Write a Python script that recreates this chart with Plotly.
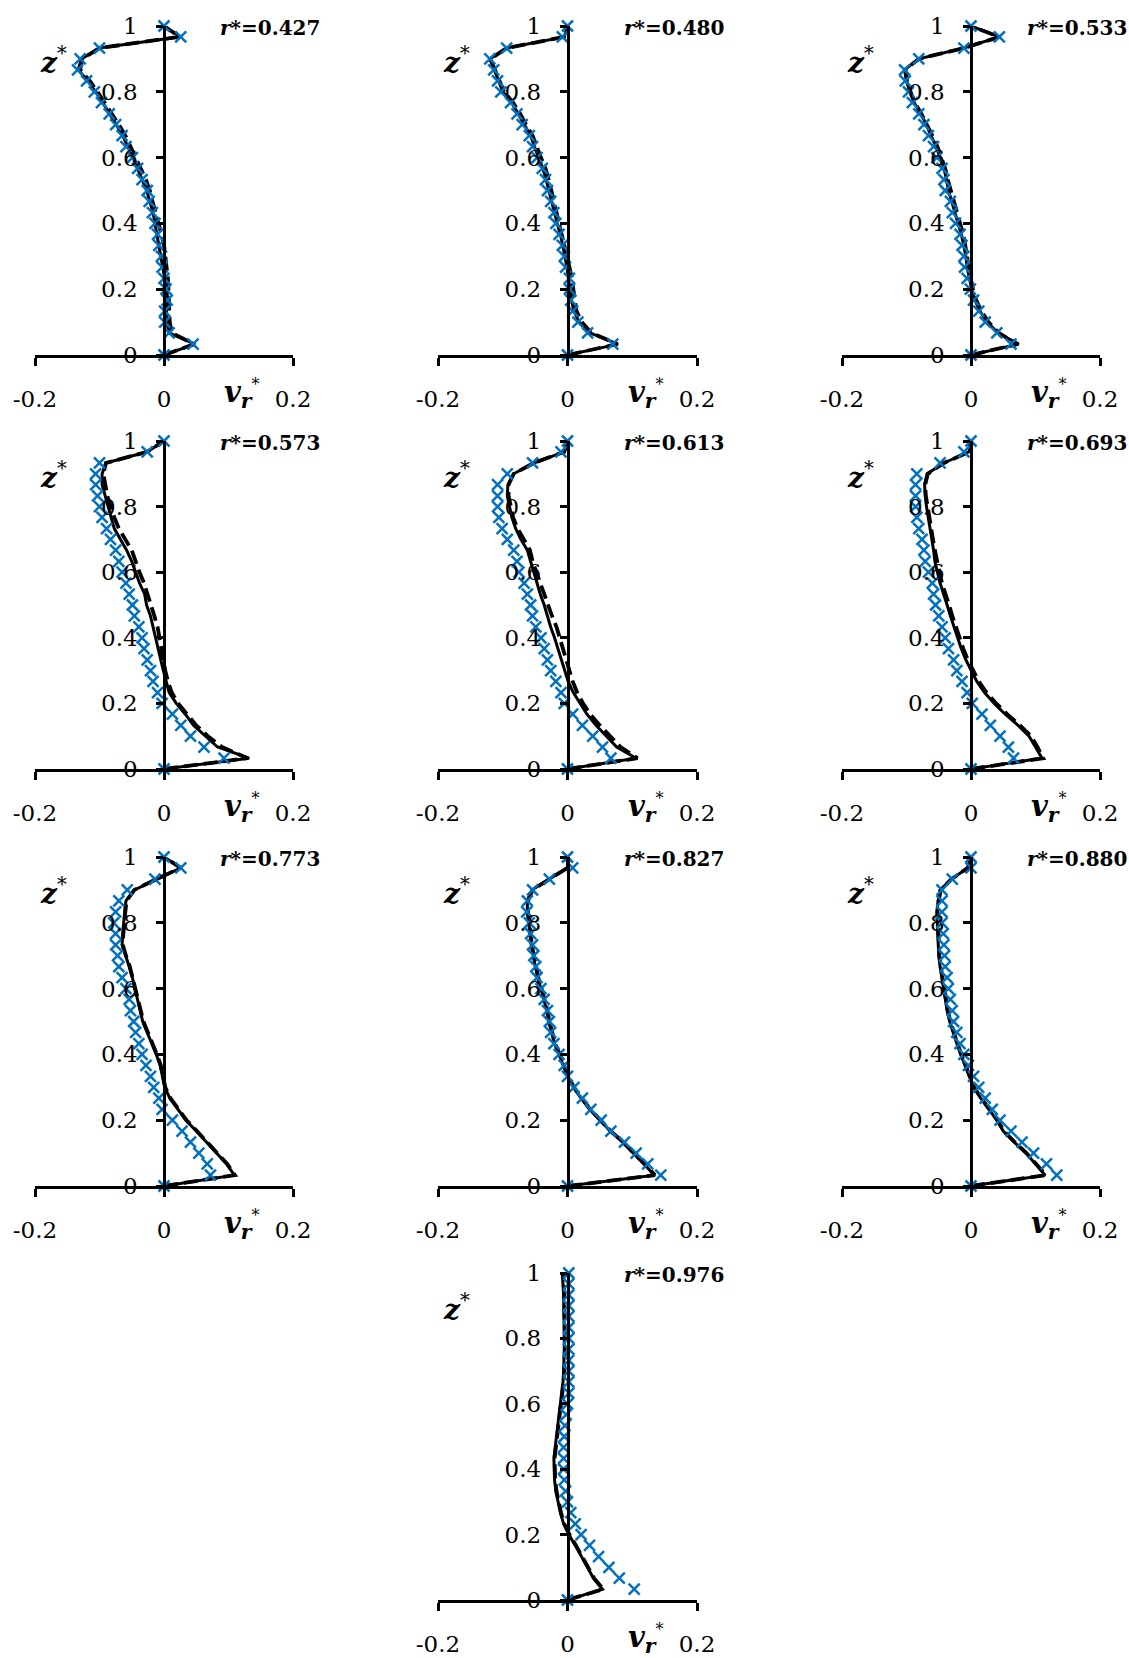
import plotly.graph_objects as go

# z* grid (shared by all profiles)
Z = [0, 0.033, 0.067, 0.1, 0.133, 0.167, 0.2, 0.233, 0.267, 0.3, 0.333, 0.367, 0.4,
     0.433, 0.467, 0.5, 0.533, 0.567, 0.6, 0.633, 0.667, 0.7, 0.733, 0.767, 0.8,
     0.833, 0.867, 0.9, 0.933, 0.967, 1]

R_LABELS = ["0.427", "0.480", "0.533", "0.573", "0.613", "0.693", "0.773", "0.827", "0.880", "0.976"]

# solid black line
S1 = [0, 0.048, 0.008, 0.004, 0.004, 0.006, 0.004, 0.001, -0.002, -0.004, -0.007, -0.010, -0.013, -0.017, -0.022, -0.027, -0.034, -0.041, -0.048, -0.056, -0.064, -0.074, -0.084, -0.095, -0.106, -0.118, -0.133, -0.128, -0.100, 0.026, 0]
S2 = [0, 0.078, 0.035, 0.018, 0.010, 0.006, 0.004, 0.002, -0.001, -0.004, -0.007, -0.011, -0.016, -0.020, -0.024, -0.029, -0.033, -0.038, -0.045, -0.051, -0.057, -0.067, -0.076, -0.086, -0.100, -0.106, -0.113, -0.120, -0.094, -0.005, 0]
S3 = [0, 0.074, 0.042, 0.025, 0.014, 0.006, 0.001, -0.003, -0.006, -0.008, -0.011, -0.015, -0.020, -0.025, -0.029, -0.035, -0.038, -0.042, -0.048, -0.054, -0.062, -0.069, -0.078, -0.088, -0.095, -0.100, -0.103, -0.081, -0.011, 0.044, 0]
S4 = [0, 0.132, 0.083, 0.064, 0.046, 0.033, 0.019, 0.008, 0.003, -0.001, -0.005, -0.009, -0.012, -0.016, -0.021, -0.027, -0.030, -0.038, -0.044, -0.050, -0.058, -0.068, -0.077, -0.082, -0.087, -0.092, -0.096, -0.096, -0.090, -0.026, 0]
S5 = [0, 0.106, 0.076, 0.060, 0.044, 0.030, 0.019, 0.009, 0.001, -0.004, -0.009, -0.014, -0.020, -0.026, -0.031, -0.036, -0.042, -0.047, -0.053, -0.057, -0.062, -0.072, -0.080, -0.086, -0.090, -0.093, -0.092, -0.083, -0.052, -0.005, 0]
S6 = [0, 0.110, 0.100, 0.090, 0.073, 0.053, 0.036, 0.021, 0.009, 0.000, -0.008, -0.015, -0.021, -0.027, -0.032, -0.037, -0.043, -0.048, -0.052, -0.056, -0.058, -0.061, -0.063, -0.066, -0.069, -0.071, -0.072, -0.068, -0.042, -0.003, 0]
S7 = [0, 0.109, 0.097, 0.082, 0.066, 0.050, 0.034, 0.021, 0.009, 0.001, -0.002, -0.006, -0.012, -0.019, -0.026, -0.033, -0.037, -0.041, -0.045, -0.049, -0.054, -0.060, -0.065, -0.064, -0.063, -0.061, -0.059, -0.046, -0.010, 0.026, 0]
S8 = [0, 0.134, 0.118, 0.102, 0.085, 0.066, 0.050, 0.034, 0.021, 0.009, 0.000, -0.006, -0.013, -0.020, -0.025, -0.029, -0.032, -0.036, -0.041, -0.046, -0.050, -0.053, -0.056, -0.058, -0.060, -0.062, -0.062, -0.055, -0.028, 0.000, 0]
S9 = [0, 0.115, 0.100, 0.085, 0.067, 0.050, 0.040, 0.027, 0.015, 0.004, -0.003, -0.010, -0.016, -0.022, -0.028, -0.033, -0.037, -0.040, -0.043, -0.046, -0.048, -0.050, -0.051, -0.052, -0.053, -0.053, -0.051, -0.048, -0.030, -0.005, 0]
S10 = [0, 0.054, 0.040, 0.031, 0.021, 0.012, 0.002, -0.006, -0.011, -0.015, -0.018, -0.020, -0.021, -0.021, -0.019, -0.017, -0.015, -0.013, -0.010, -0.008, -0.007, -0.006, -0.005, -0.005, -0.005, -0.005, -0.005, -0.006, -0.006, -0.007, -0.008]

# dashed black line
D1 = [0, 0.047, 0.012, 0.009, 0.008, 0.008, 0.007, 0.006, 0.004, 0.002, 0.000, -0.004, -0.008, -0.013, -0.018, -0.022, -0.028, -0.036, -0.043, -0.051, -0.060, -0.070, -0.080, -0.092, -0.103, -0.115, -0.130, -0.127, -0.100, 0.024, 0]
D2 = [0, 0.077, 0.037, 0.022, 0.014, 0.011, 0.009, 0.007, 0.003, 0.000, -0.004, -0.008, -0.012, -0.016, -0.020, -0.025, -0.029, -0.034, -0.041, -0.047, -0.054, -0.064, -0.073, -0.084, -0.098, -0.105, -0.112, -0.119, -0.094, -0.005, 0]
D3 = [0, 0.072, 0.043, 0.027, 0.016, 0.008, 0.003, -0.001, -0.004, -0.006, -0.009, -0.012, -0.017, -0.022, -0.026, -0.032, -0.036, -0.040, -0.046, -0.052, -0.060, -0.068, -0.077, -0.087, -0.094, -0.099, -0.102, -0.081, -0.011, 0.044, 0]
D4 = [0, 0.129, 0.090, 0.068, 0.050, 0.036, 0.022, 0.012, 0.006, 0.002, -0.001, -0.004, -0.006, -0.010, -0.015, -0.020, -0.025, -0.031, -0.038, -0.044, -0.050, -0.060, -0.070, -0.077, -0.083, -0.088, -0.091, -0.094, -0.090, -0.026, 0]
D5 = [0, 0.108, 0.082, 0.065, 0.050, 0.035, 0.024, 0.015, 0.008, 0.003, -0.002, -0.007, -0.011, -0.017, -0.024, -0.030, -0.036, -0.042, -0.048, -0.054, -0.058, -0.068, -0.077, -0.084, -0.088, -0.091, -0.091, -0.083, -0.052, -0.005, 0]
D6 = [0, 0.112, 0.103, 0.093, 0.076, 0.056, 0.039, 0.024, 0.012, 0.003, -0.005, -0.012, -0.018, -0.024, -0.029, -0.034, -0.040, -0.045, -0.049, -0.053, -0.056, -0.059, -0.062, -0.065, -0.068, -0.070, -0.071, -0.067, -0.042, -0.003, 0]
D7 = [0, 0.110, 0.098, 0.083, 0.067, 0.051, 0.035, 0.022, 0.010, 0.002, -0.001, -0.005, -0.011, -0.018, -0.025, -0.032, -0.036, -0.040, -0.044, -0.048, -0.053, -0.059, -0.064, -0.063, -0.062, -0.060, -0.058, -0.046, -0.012, 0.026, 0]
D8 = [0, 0.135, 0.119, 0.103, 0.086, 0.067, 0.051, 0.035, 0.022, 0.010, 0.001, -0.005, -0.012, -0.019, -0.024, -0.028, -0.031, -0.035, -0.040, -0.045, -0.049, -0.052, -0.055, -0.057, -0.059, -0.061, -0.061, -0.054, -0.028, 0.000, 0]
D9 = [0, 0.116, 0.101, 0.086, 0.068, 0.051, 0.041, 0.028, 0.016, 0.005, -0.002, -0.009, -0.015, -0.021, -0.027, -0.032, -0.036, -0.039, -0.042, -0.045, -0.047, -0.049, -0.050, -0.051, -0.052, -0.052, -0.050, -0.047, -0.030, -0.005, 0]
D10 = [0, 0.055, 0.041, 0.032, 0.022, 0.013, 0.003, -0.005, -0.010, -0.014, -0.017, -0.019, -0.020, -0.020, -0.018, -0.016, -0.014, -0.012, -0.009, -0.007, -0.006, -0.005, -0.004, -0.004, -0.004, -0.004, -0.004, -0.005, -0.005, -0.006, -0.007]

# blue x markers
B1 = [0, 0.045, 0.008, 0.001, 0.001, 0.005, 0.003, 0.000, -0.003, -0.004, -0.008, -0.010, -0.014, -0.018, -0.023, -0.026, -0.034, -0.041, -0.049, -0.059, -0.065, -0.075, -0.085, -0.097, -0.108, -0.120, -0.134, -0.130, -0.100, 0.026, 0]
B2 = [0, 0.070, 0.031, 0.016, 0.008, 0.005, 0.003, 0.003, -0.003, -0.005, -0.008, -0.013, -0.018, -0.021, -0.026, -0.031, -0.034, -0.039, -0.047, -0.054, -0.059, -0.070, -0.078, -0.088, -0.103, -0.108, -0.114, -0.120, -0.094, -0.008, 0]
B3 = [0, 0.062, 0.040, 0.022, 0.012, 0.004, -0.001, -0.006, -0.010, -0.011, -0.014, -0.017, -0.024, -0.029, -0.032, -0.040, -0.042, -0.045, -0.053, -0.058, -0.066, -0.073, -0.081, -0.091, -0.097, -0.102, -0.103, -0.081, -0.011, 0.044, 0]
B4 = [0, 0.093, 0.062, 0.041, 0.026, 0.013, -0.003, -0.010, -0.017, -0.021, -0.026, -0.031, -0.034, -0.039, -0.046, -0.049, -0.054, -0.059, -0.065, -0.070, -0.075, -0.083, -0.089, -0.096, -0.100, -0.103, -0.106, -0.106, -0.100, -0.026, 0]
B5 = [0, 0.067, 0.054, 0.039, 0.023, 0.008, -0.005, -0.010, -0.018, -0.026, -0.031, -0.036, -0.041, -0.049, -0.054, -0.057, -0.062, -0.067, -0.075, -0.078, -0.083, -0.093, -0.101, -0.106, -0.108, -0.108, -0.108, -0.093, -0.054, -0.010, 0]
B6 = [0, 0.066, 0.058, 0.045, 0.030, 0.017, 0.002, -0.006, -0.014, -0.022, -0.027, -0.035, -0.040, -0.045, -0.050, -0.055, -0.058, -0.060, -0.066, -0.071, -0.073, -0.076, -0.081, -0.084, -0.086, -0.086, -0.086, -0.084, -0.048, -0.011, 0]
B7 = [0, 0.072, 0.067, 0.054, 0.041, 0.028, 0.013, -0.003, -0.008, -0.016, -0.021, -0.028, -0.034, -0.039, -0.044, -0.047, -0.052, -0.054, -0.059, -0.065, -0.070, -0.072, -0.075, -0.075, -0.078, -0.075, -0.070, -0.057, -0.014, 0.026, 0]
B8 = [0, 0.144, 0.124, 0.106, 0.088, 0.067, 0.052, 0.036, 0.023, 0.010, 0.000, -0.005, -0.013, -0.021, -0.026, -0.028, -0.031, -0.036, -0.041, -0.047, -0.049, -0.052, -0.054, -0.057, -0.059, -0.063, -0.062, -0.054, -0.028, 0.008, 0]
B9 = [0, 0.133, 0.117, 0.097, 0.079, 0.062, 0.045, 0.033, 0.022, 0.012, 0.004, -0.004, -0.011, -0.017, -0.022, -0.027, -0.029, -0.032, -0.035, -0.037, -0.040, -0.041, -0.042, -0.043, -0.045, -0.045, -0.045, -0.045, -0.029, 0.000, 0]
B10 = [0, 0.103, 0.080, 0.064, 0.048, 0.034, 0.021, 0.012, 0.005, 0.000, -0.003, -0.005, -0.006, -0.006, -0.006, -0.005, -0.004, -0.002, 0.000, 0.002, 0.002, 0.002, 0.002, 0.002, 0.002, 0.002, 0.002, 0.002, 0.002, 0.002, 0.002]

SOLID = [S1, S2, S3, S4, S5, S6, S7, S8, S9, S10]
DASHED = [D1, D2, D3, D4, D5, D6, D7, D8, D9, D10]
MARKS = [B1, B2, B3, B4, B5, B6, B7, B8, B9, B10]

X_RANGE = [-0.2, 0.2]
X_TICKS = [-0.2, 0, 0.2]
X_TICKTEXT = ["-0.2", "0", "0.2"]
Y_TICKS = [0, 0.2, 0.4, 0.6, 0.8, 1]
Y_TICKTEXT = ["0", "0.2", "0.4", "0.6", "0.8", "1"]

W, H = 1129, 1658
COLS = [(35, 293), (438, 697), (842, 1100)]
ROWS = [(26, 355), (441, 769), (857, 1186), (1273, 1600)]
CELLS = [(0, 0), (0, 1), (0, 2), (1, 0), (1, 1), (1, 2), (2, 0), (2, 1), (2, 2), (3, 1)]

BLUE = "#0070C0"
FONT = "DejaVu Serif"


def xdom(v):
    # data x -> fraction of the x-axis domain (labels sit outside the range)
    return (v - X_RANGE[0]) / (X_RANGE[1] - X_RANGE[0])


fig = go.Figure()
layout = dict(width=W, height=H, margin=dict(l=0, r=0, t=0, b=0, autoexpand=False),
              paper_bgcolor="white", plot_bgcolor="white", showlegend=False)
annotations = []

for i, (r, c) in enumerate(CELLS):
    n = i + 1
    xs = "" if n == 1 else str(n)
    x0, x1 = COLS[c]
    ytop, ybot = ROWS[r]
    xd = [x0 / W, x1 / W]
    yd = [1 - ybot / H, 1 - ytop / H]
    layout["xaxis" + xs] = dict(
        domain=xd, range=X_RANGE, anchor="y" + xs, showline=True, automargin=False,
        linecolor="black", linewidth=2.5, ticks="outside", ticklen=8, tickwidth=2.5,
        tickcolor="black", tickvals=X_TICKS, ticktext=X_TICKTEXT, showgrid=False,
        zeroline=False, tickfont=dict(family=FONT, size=23, color="black"),
        ticklabelstandoff=14, fixedrange=True)
    layout["yaxis" + xs] = dict(
        domain=yd, range=[0, 1], anchor="free", position=(xd[0] + xd[1]) / 2,
        side="left", showline=True, linecolor="black", linewidth=2.5, automargin=False,
        ticks="outside", ticklen=7, tickwidth=2.5, tickcolor="black",
        tickvals=Y_TICKS, ticktext=Y_TICKTEXT, showgrid=False, zeroline=False,
        tickfont=dict(family=FONT, size=23, color="black"),
        ticklabelstandoff=14, fixedrange=True)

    fig.add_trace(go.Scatter(x=DASHED[i], y=Z, mode="lines", xaxis="x" + xs, yaxis="y" + xs,
                             line=dict(color="black", width=3.8, dash="14px,6px"), cliponaxis=False))
    fig.add_trace(go.Scatter(x=SOLID[i], y=Z, mode="lines", xaxis="x" + xs, yaxis="y" + xs,
                             line=dict(color="black", width=3), cliponaxis=False))
    fig.add_trace(go.Scatter(x=MARKS[i], y=Z, mode="markers", xaxis="x" + xs, yaxis="y" + xs,
                             marker=dict(symbol="x-thin", size=11, color=BLUE,
                                         line=dict(color=BLUE, width=2.5)), cliponaxis=False))

    xr, yr = "x" + xs + " domain", "y" + xs + " domain"
    annotations.append(dict(xref=xr, yref=yr, x=xdom(0.245), y=0.995, xanchor="right", yanchor="middle",
                            text="<b><i>r</i>*=" + R_LABELS[i] + "</b>", showarrow=False,
                            font=dict(family=FONT, size=20, color="black")))
    annotations.append(dict(xref=xr, yref=yr, x=xdom(-0.172), y=0.895, xanchor="center", yanchor="middle",
                            text="<b><i>z</i></b><sup>*</sup>", showarrow=False,
                            font=dict(family=FONT, size=28, color="black")))
    annotations.append(dict(xref=xr, yref=yr, x=xdom(0.090), y=-0.118, xanchor="left", yanchor="middle",
                            text="<b><i>v</i></b><sub><b><i>r</i></b></sub>"
                                 "<sup><span style='font-size:16px'>*</span></sup>",
                            showarrow=False, font=dict(family=FONT, size=29, color="black")))

layout["annotations"] = annotations
fig.update_layout(**layout)
fig.write_html("out.html", config={"displayModeBar": False},
               post_script="document.body.style.margin='0';document.body.style.overflow='hidden';")
